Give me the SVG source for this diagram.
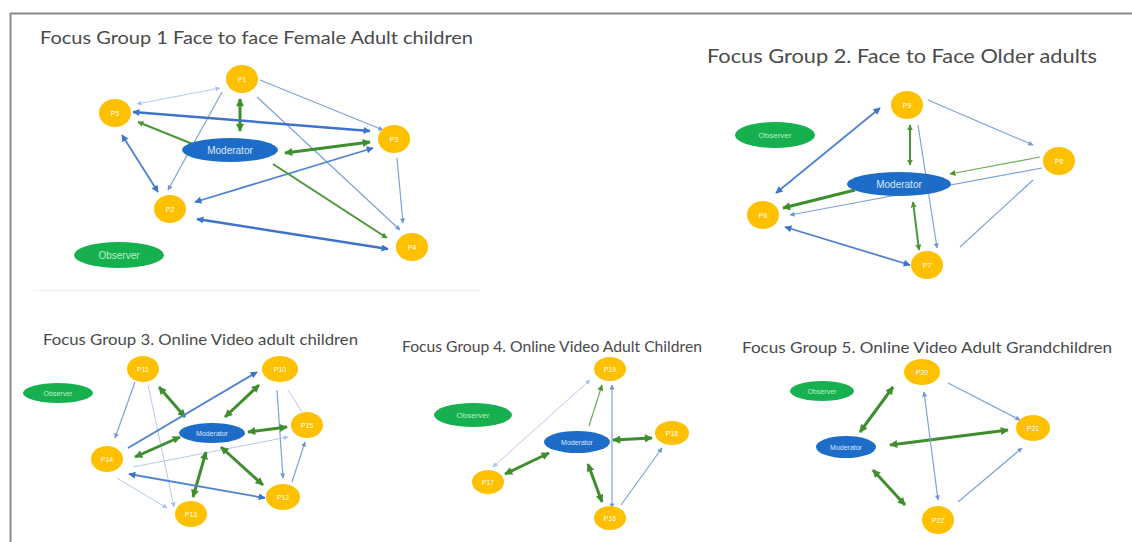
<svg xmlns="http://www.w3.org/2000/svg" width="1132" height="542" viewBox="0 0 1132 542">
<style>
.title{font-family:Lato,"Liberation Sans",sans-serif;fill:#4a4a4a}
.p{fill:#FFC000}
.pt{font-family:"Liberation Sans",sans-serif;font-size:7px;fill:#fff;text-anchor:middle}
.mod{fill:#1C6CC8}
.obs{fill:#16B04E}
.mt{font-family:"Liberation Sans",sans-serif;fill:#dbe8ff;text-anchor:middle}
.ot{font-family:"Liberation Sans",sans-serif;fill:#b9f2c6;text-anchor:middle}
.e line{fill:none}
.g3{stroke:#3E8E2E;stroke-width:3}
.g2{stroke:#4A9636;stroke-width:2}
.g1{stroke:#6FAA52;stroke-width:1.2}
.b3{stroke:#3D74C9;stroke-width:2.5}
.b2{stroke:#4F82D0;stroke-width:1.8}
.b1{stroke:#7EA2DA;stroke-width:1.2}
.l1{stroke:#B3CAEE;stroke-width:1}
</style>
<defs>
<marker id="mG" viewBox="0 0 10 10" refX="9" refY="5" markerWidth="9" markerHeight="8" markerUnits="userSpaceOnUse" orient="auto-start-reverse"><path d="M0,0L10,5L0,10z" fill="#3E8E2E"/></marker>
<marker id="mg" viewBox="0 0 10 10" refX="9" refY="5" markerWidth="6" markerHeight="6" markerUnits="userSpaceOnUse" orient="auto-start-reverse"><path d="M0,0L10,5L0,10z" fill="#4A9636"/></marker>
<marker id="mB" viewBox="0 0 10 10" refX="9" refY="5" markerWidth="8" markerHeight="7" markerUnits="userSpaceOnUse" orient="auto-start-reverse"><path d="M0,0L10,5L0,10z" fill="#3D74C9"/></marker>
<marker id="mb" viewBox="0 0 10 10" refX="9" refY="5" markerWidth="6" markerHeight="5" markerUnits="userSpaceOnUse" orient="auto-start-reverse"><path d="M0,0L10,5L0,10z" fill="#6F97D6"/></marker>
<marker id="ml" viewBox="0 0 10 10" refX="9" refY="5" markerWidth="5" markerHeight="5" markerUnits="userSpaceOnUse" orient="auto-start-reverse"><path d="M0,0L10,5L0,10z" fill="#A9C2EC"/></marker>
</defs>
<rect x="0" y="0" width="1132" height="542" fill="#fff"/>
<g id="frame">
<line x1="10" y1="13.5" x2="1132" y2="13.5" stroke="#8a8a8a" stroke-width="2"/>
<line x1="10.5" y1="13" x2="10.5" y2="542" stroke="#8a8a8a" stroke-width="2"/>
<line x1="33" y1="290.5" x2="480" y2="290.5" stroke="#eeeeee" stroke-width="1"/>
</g>
<g id="titles">
<text class="title" x="40" y="44" font-size="17" textLength="433" lengthAdjust="spacingAndGlyphs">Focus Group 1 Face to face Female Adult children</text>
<text class="title" x="707" y="63" font-size="19" textLength="390" lengthAdjust="spacingAndGlyphs">Focus Group 2. Face to Face Older adults</text>
<text class="title" x="43" y="345" font-size="15" textLength="315" lengthAdjust="spacingAndGlyphs">Focus Group 3. Online Video adult children</text>
<text class="title" x="402" y="352" font-size="15" textLength="300" lengthAdjust="spacingAndGlyphs">Focus Group 4. Online Video Adult Children</text>
<text class="title" x="742" y="353" font-size="16" textLength="370" lengthAdjust="spacingAndGlyphs">Focus Group 5. Online Video Adult Grandchildren</text>
</g>
<g id="connectors" class="e">
<!-- FG1 -->
<line class="l1" x1="220" y1="88" x2="137" y2="104" marker-start="url(#ml)" marker-end="url(#ml)"/>
<line class="b1" x1="260" y1="80" x2="383" y2="130" marker-end="url(#mb)"/>
<line class="b1" x1="257" y1="97" x2="400" y2="230" marker-end="url(#mb)"/>
<line class="b1" x1="222" y1="92" x2="168" y2="190" marker-end="url(#mb)"/>
<line class="g3" x1="240" y1="99" x2="240" y2="131" marker-start="url(#mG)" marker-end="url(#mG)"/>
<line class="b3" x1="133" y1="112" x2="370" y2="131" marker-start="url(#mB)" marker-end="url(#mB)"/>
<line class="g2" x1="200" y1="147" x2="138" y2="122" marker-end="url(#mg)"/>
<line class="b2" x1="122" y1="135" x2="158" y2="192" marker-start="url(#mB)" marker-end="url(#mB)"/>
<line class="g3" x1="285" y1="153" x2="370" y2="142" marker-start="url(#mG)" marker-end="url(#mG)"/>
<line class="b2" x1="373" y1="148" x2="195" y2="202" marker-start="url(#mB)" marker-end="url(#mB)"/>
<line class="b1" x1="397" y1="158" x2="403" y2="223" marker-end="url(#mb)"/>
<line class="g2" x1="273" y1="164" x2="387" y2="238" marker-end="url(#mg)"/>
<line class="b3" x1="197" y1="219" x2="388" y2="249" marker-start="url(#mB)" marker-end="url(#mB)"/>
<!-- FG2 -->
<line class="b2" x1="776" y1="193" x2="880" y2="108" marker-start="url(#mB)" marker-end="url(#mB)"/>
<line class="b1" x1="928" y1="100" x2="1033" y2="145" marker-end="url(#mb)"/>
<line class="g2" x1="910" y1="125" x2="910" y2="165" marker-start="url(#mg)" marker-end="url(#mg)"/>
<line class="b1" x1="918" y1="125" x2="937" y2="248" marker-end="url(#mb)"/>
<line class="g1" x1="1040" y1="157" x2="950" y2="174" marker-end="url(#mg)"/>
<line class="b1" x1="1042" y1="168" x2="790" y2="215" marker-end="url(#mb)"/>
<line class="b1" x1="1033" y1="180" x2="960" y2="247"/>
<line class="g3" x1="855" y1="190" x2="783" y2="208" marker-end="url(#mG)"/>
<line class="g2" x1="913" y1="202" x2="919" y2="250" marker-start="url(#mg)" marker-end="url(#mg)"/>
<line class="b2" x1="785" y1="227" x2="910" y2="265" marker-start="url(#mB)" marker-end="url(#mB)"/>
<!-- FG3 -->
<line class="b1" x1="135" y1="382" x2="115" y2="438" marker-end="url(#mb)"/>
<line class="l1" x1="148" y1="385" x2="174" y2="507" marker-end="url(#ml)"/>
<line class="g3" x1="159" y1="387" x2="185" y2="417" marker-start="url(#mG)" marker-end="url(#mG)"/>
<line class="b2" x1="128" y1="448" x2="257" y2="372" marker-end="url(#mB)"/>
<line class="g3" x1="225" y1="417" x2="259" y2="385" marker-start="url(#mG)" marker-end="url(#mG)"/>
<line class="b1" x1="277" y1="390" x2="283" y2="478" marker-end="url(#mb)"/>
<line class="l1" x1="288" y1="390" x2="302" y2="412"/>
<line class="g3" x1="248" y1="432" x2="287" y2="427" marker-start="url(#mG)" marker-end="url(#mG)"/>
<line class="l1" x1="133" y1="467" x2="288" y2="437" marker-end="url(#ml)"/>
<line class="b1" x1="292" y1="482" x2="305" y2="442" marker-end="url(#mb)"/>
<line class="g3" x1="180" y1="437" x2="135" y2="457" marker-start="url(#mG)" marker-end="url(#mG)"/>
<line class="g3" x1="206" y1="452" x2="193" y2="497" marker-start="url(#mG)" marker-end="url(#mG)"/>
<line class="g3" x1="221" y1="447" x2="263" y2="485" marker-start="url(#mG)" marker-end="url(#mG)"/>
<line class="b2" x1="129" y1="474" x2="265" y2="498" marker-start="url(#mB)" marker-end="url(#mB)"/>
<line class="l1" x1="117" y1="478" x2="167" y2="508" marker-end="url(#ml)"/>
<!-- FG4 -->
<line class="l1" x1="590" y1="380" x2="493" y2="467" marker-start="url(#ml)" marker-end="url(#ml)"/>
<line class="g1" x1="589" y1="426" x2="602" y2="385" marker-end="url(#mg)"/>
<line class="b1" x1="612" y1="385" x2="612" y2="508" marker-start="url(#mb)" marker-end="url(#mb)"/>
<line class="g3" x1="613" y1="440" x2="652" y2="438" marker-start="url(#mG)" marker-end="url(#mG)"/>
<line class="g3" x1="549" y1="453" x2="505" y2="474" marker-start="url(#mG)" marker-end="url(#mG)"/>
<line class="g3" x1="588" y1="464" x2="602" y2="502" marker-start="url(#mG)" marker-end="url(#mG)"/>
<line class="b1" x1="621" y1="505" x2="662" y2="448" marker-end="url(#mb)"/>
<!-- FG5 -->
<line class="g3" x1="860" y1="432" x2="893" y2="387" marker-start="url(#mG)" marker-end="url(#mG)"/>
<line class="g3" x1="890" y1="445" x2="1008" y2="430" marker-start="url(#mG)" marker-end="url(#mG)"/>
<line class="g3" x1="873" y1="470" x2="905" y2="505" marker-start="url(#mG)" marker-end="url(#mG)"/>
<line class="b1" x1="948" y1="383" x2="1020" y2="420" marker-end="url(#mb)"/>
<line class="b1" x1="924" y1="392" x2="938" y2="500" marker-start="url(#mb)" marker-end="url(#mb)"/>
<line class="b1" x1="958" y1="502" x2="1022" y2="448" marker-end="url(#mb)"/>
</g>
<!-- FG1 nodes -->
<g id="fg1-p1"><ellipse class="p" cx="242" cy="79" rx="16" ry="14"/><text class="pt" x="242" y="82">P1</text></g>
<g id="fg1-p5"><ellipse class="p" cx="115" cy="113" rx="16" ry="14"/><text class="pt" x="115" y="116">P5</text></g>
<g id="fg1-p3"><ellipse class="p" cx="394" cy="139" rx="16" ry="14"/><text class="pt" x="394" y="142">P3</text></g>
<g id="fg1-p2"><ellipse class="p" cx="170" cy="209" rx="16" ry="14"/><text class="pt" x="170" y="212">P2</text></g>
<g id="fg1-p4"><ellipse class="p" cx="412" cy="247" rx="16" ry="14"/><text class="pt" x="412" y="250">P4</text></g>
<g id="fg1-mod"><ellipse class="mod" cx="230" cy="150" rx="48" ry="12"/><text class="mt" x="230" y="153.5" font-size="10">Moderator</text></g>
<g id="fg1-obs"><ellipse class="obs" cx="119" cy="255" rx="45" ry="13"/><text class="ot" x="119" y="258.5" font-size="10">Observer</text></g>
<!-- FG2 nodes -->
<g id="fg2-p9"><ellipse class="p" cx="907" cy="105" rx="16" ry="14"/><text class="pt" x="907" y="108">P9</text></g>
<g id="fg2-p8"><ellipse class="p" cx="1059" cy="161" rx="16" ry="14"/><text class="pt" x="1059" y="164">P8</text></g>
<g id="fg2-p6"><ellipse class="p" cx="763" cy="215" rx="16" ry="14"/><text class="pt" x="763" y="218">P6</text></g>
<g id="fg2-p7"><ellipse class="p" cx="927" cy="265" rx="16" ry="14"/><text class="pt" x="927" y="268">P7</text></g>
<g id="fg2-mod"><ellipse class="mod" cx="899" cy="184" rx="52" ry="12"/><text class="mt" x="899" y="187.5" font-size="10">Moderator</text></g>
<g id="fg2-obs"><ellipse class="obs" cx="775" cy="135" rx="40" ry="13"/><text class="ot" x="775" y="138" font-size="8">Observer</text></g>
<!-- FG3 nodes -->
<g id="fg3-p11"><ellipse class="p" cx="143" cy="369" rx="16" ry="13"/><text class="pt" x="143" y="372">P11</text></g>
<g id="fg3-p10"><ellipse class="p" cx="280" cy="369" rx="18" ry="13"/><text class="pt" x="280" y="372">P10</text></g>
<g id="fg3-p15"><ellipse class="p" cx="307" cy="425" rx="16" ry="13"/><text class="pt" x="307" y="428">P15</text></g>
<g id="fg3-p14"><ellipse class="p" cx="107" cy="459" rx="16" ry="13"/><text class="pt" x="107" y="462">P14</text></g>
<g id="fg3-p12"><ellipse class="p" cx="283" cy="497" rx="17" ry="13"/><text class="pt" x="283" y="500">P12</text></g>
<g id="fg3-p13"><ellipse class="p" cx="191" cy="514" rx="16" ry="13"/><text class="pt" x="191" y="517">P13</text></g>
<g id="fg3-mod"><ellipse class="mod" cx="212" cy="433" rx="33" ry="10"/><text class="mt" x="212" y="435.5" font-size="7">Moderator</text></g>
<g id="fg3-obs"><ellipse class="obs" cx="58" cy="393" rx="35" ry="10"/><text class="ot" x="58" y="395.5" font-size="7">Observer</text></g>
<!-- FG4 nodes -->
<g id="fg4-p19"><ellipse class="p" cx="610" cy="369" rx="16" ry="12"/><text class="pt" x="610" y="372">P19</text></g>
<g id="fg4-p18"><ellipse class="p" cx="672" cy="433" rx="17" ry="12"/><text class="pt" x="672" y="436">P18</text></g>
<g id="fg4-p17"><ellipse class="p" cx="488" cy="482" rx="16" ry="12"/><text class="pt" x="488" y="485">P17</text></g>
<g id="fg4-p16"><ellipse class="p" cx="610" cy="518" rx="16" ry="12"/><text class="pt" x="610" y="521">P16</text></g>
<g id="fg4-mod"><ellipse class="mod" cx="577" cy="442" rx="33" ry="11"/><text class="mt" x="577" y="444.5" font-size="7">Moderator</text></g>
<g id="fg4-obs"><ellipse class="obs" cx="473" cy="415" rx="39" ry="12"/><text class="ot" x="473" y="418" font-size="8">Observer</text></g>
<!-- FG5 nodes -->
<g id="fg5-p20"><ellipse class="p" cx="922" cy="372" rx="18" ry="13"/><text class="pt" x="922" y="375">P20</text></g>
<g id="fg5-p21"><ellipse class="p" cx="1033" cy="428" rx="17" ry="13"/><text class="pt" x="1033" y="431">P21</text></g>
<g id="fg5-p22"><ellipse class="p" cx="938" cy="520" rx="16" ry="14"/><text class="pt" x="938" y="523">P22</text></g>
<g id="fg5-mod"><ellipse class="mod" cx="846" cy="447" rx="30" ry="11"/><text class="mt" x="846" y="449.5" font-size="7">Moderator</text></g>
<g id="fg5-obs"><ellipse class="obs" cx="822" cy="391" rx="32" ry="10"/><text class="ot" x="822" y="393.5" font-size="7">Observer</text></g>
</svg>
